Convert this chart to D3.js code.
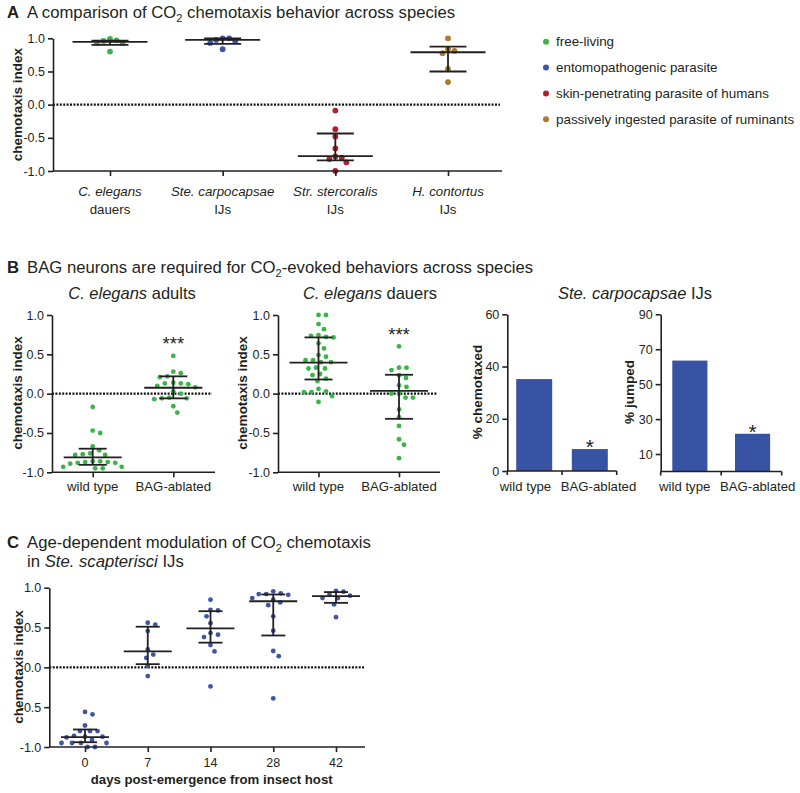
<!DOCTYPE html>
<html><head><meta charset="utf-8">
<script src="https://cdn.jsdelivr.net/npm/d3@7"></script>
<style>
body{margin:0;background:#fff;}
svg text{font-family:"Liberation Sans",Arial,Helvetica,sans-serif;fill:#231f20;}
</style></head><body>
<script>
// ---------------- DATA ----------------
// Panel A
const categoriesA = ["C. elegans", "Ste. carpocapsae", "Str. stercoralis", "H. contortus"];
const stagesA = ["dauers", "IJs", "IJs", "IJs"];
const lifestylesA = ["free-living", "entomopathogenic parasite", "skin-penetrating parasite of humans", "passively ingested parasite of ruminants"];
const celegansDauersA = [0.97, 0.93, 0.93, 0.96, 0.99, 0.80];
const steCarpocapsaeA = [1.0, 0.96, 0.93, 0.975, 1.0, 0.835];
const strStercoralisA = [-0.09, -0.37, -0.48, -0.66, -0.78, -0.82, -0.87, -0.80, -1.0];
const hContortusA = [1.0, 0.835, 0.775, 0.81, 0.54, 0.34];
const medianA = [0.945, 0.975, -0.775, 0.79];
const q1A = [0.90, 0.915, -0.84, 0.50];
const q3A = [0.965, 1.0, -0.435, 0.875];
const yTicksCI = [-1.0, -0.5, 0.0, 0.5, 1.0];

// Panel B
const groupsB = ["wild type", "BAG-ablated"];
const adultsWT = [-0.17, -0.47, -0.50, -0.67, -0.72, -0.76, -0.77, -0.78, -0.78, -0.86, -0.87, -0.88, -0.89, -0.88, -0.87, -0.86, -0.93, -0.95, -0.95, -0.93];
const adultsBAG = [0.48, 0.28, 0.26, 0.22, 0.21, 0.14, 0.13, 0.13, 0.12, 0.10, 0.08, 0.03, 0.0, -0.05, -0.06, -0.06, -0.07, -0.16, -0.24];
const adultsMedian = [-0.81, 0.075];
const adultsQ1 = [-0.905, -0.06];
const adultsQ3 = [-0.70, 0.22];
const adultsSig = ["", "***"];
const dauersWT = [1.0, 1.0, 0.885, 0.82, 0.745, 0.72, 0.715, 0.735, 0.64, 0.575, 0.47, 0.49, 0.425, 0.40, 0.40, 0.425, 0.32, 0.32, 0.33, 0.25, 0.235, 0.19, 0.16, 0.06, 0.02, 0.02, 0.03, -0.03, -0.105];
const dauersBAG = [0.6, 0.33, 0.33, 0.30, 0.235, 0.20, 0.105, 0.085, 0.0, 0.0, -0.05, -0.05, -0.20, -0.30, -0.41, -0.58, -0.65, -0.82];
const dauersMedian = [0.395, 0.035];
const dauersQ1 = [0.18, -0.32];
const dauersQ3 = [0.715, 0.24];
const dauersSig = ["", "***"];
const chemotaxedPct = [35.2, 8.4];
const chemotaxedTicks = [0, 20, 40, 60];
const chemotaxedSig = ["", "*"];
const jumpedPct = [63.5, 21.6];
const jumpedTicks = [10, 30, 50, 70, 90];
const jumpedSig = ["", "*"];

// Panel C
const daysC = ["0", "7", "14", "28", "42"];
const day0 = [-0.56, -0.59, -0.73, -0.80, -0.80, -0.80, -0.91, -0.87, -0.88, -0.87, -0.86, -0.95, -0.95, -0.95, -0.95, -1.0, -1.0];
const day7 = [0.56, 0.535, 0.455, 0.225, 0.16, 0.12, 0.02, -0.11];
const day14 = [0.85, 0.72, 0.715, 0.64, 0.555, 0.43, 0.41, 0.38, 0.28, 0.20, -0.24];
const day28 = [0.955, 0.92, 0.91, 0.92, 0.93, 0.85, 0.87, 0.815, 0.78, 0.64, 0.46, 0.205, 0.14, -0.39];
const day42 = [0.95, 0.96, 0.91, 0.90, 0.87, 0.87, 0.79, 0.63];
const medianC = [-0.877, 0.20, 0.49, 0.83, 0.895];
const q1C = [-0.94, 0.04, 0.31, 0.40, 0.81];
const q3C = [-0.78, 0.51, 0.705, 0.915, 0.945];

// ---------------- STYLE ----------------
const INK = "#231f20";
const paletteA = ["#3bb44a", "#3d55a6", "#b3202a", "#a97a2f"];
const greenB = "#3bb44a";
const blueC = "#3d55a6";
const barBlue = "#3953a4";

// ---------------- HELPERS ----------------
const svg = d3.select("body").append("svg").attr("width", 800).attr("height", 793);

function swarm(vals, y, r, gap) {
  const D = 2 * r + gap;
  const placed = [];
  const order = vals.map((v, i) => ({v, i, y: y(v)})).sort((a, b) => b.v - a.v);
  for (const p of order) {
    let off = 0;
    for (let k = 0; k < 400; k++) {
      const o = (k % 2 === 1 ? 1 : -1) * Math.ceil(k / 2) * 0.5;
      if (placed.every(q => (q.dx - o) ** 2 + (q.y - p.y) ** 2 >= D * D)) { off = o; break; }
    }
    p.dx = off; placed.push(p);
  }
  return placed;
}

function yAxis(y, xPos, ticks, fmt) {
  const a = svg.append("g").attr("transform", `translate(${xPos},0)`)
    .call(d3.axisLeft(y).tickValues(ticks).tickSize(5).tickSizeOuter(0).tickPadding(3).tickFormat(fmt));
  a.attr("font-family", null).attr("font-size", null);
  a.select(".domain").attr("stroke", INK).attr("stroke-width", 1.6);
  a.selectAll(".tick line").attr("stroke", INK).attr("stroke-width", 1.6);
  a.selectAll(".tick text").attr("font-size", 12.5).attr("fill", INK);
  return a;
}

function xAxisPoints(x, yPos, x0, x1) {
  const a = svg.append("g").attr("transform", `translate(0,${yPos})`)
    .call(d3.axisBottom(x).tickSize(5).tickSizeOuter(0).tickFormat(""));
  a.select(".domain").remove();
  a.selectAll(".tick line").attr("stroke", INK).attr("stroke-width", 1.6);
  a.append("line").attr("x1", x0).attr("x2", x1).attr("y1", 0).attr("y2", 0)
    .attr("stroke", INK).attr("stroke-width", 1.6);
  return a;
}

function zeroLine(y, x0, x1) {
  svg.append("line").attr("x1", x0).attr("x2", x1).attr("y1", y(0)).attr("y2", y(0))
    .attr("stroke", "#111").attr("stroke-width", 2.4).attr("stroke-dasharray", "2,1.4");
}

function scatterGroup(x, y, cat, vals, color, r, gap, med, q1, q3, medW, whW) {
  const g = svg.append("g");
  const cx = x(cat);
  const pts = swarm(vals, y, r, gap);
  g.selectAll("circle").data(pts).join("circle")
    .attr("cx", d => cx + d.dx).attr("cy", d => d.y).attr("r", r).attr("fill", color);
  const segs = [
    [cx - medW / 2, y(med), cx + medW / 2, y(med)],
    [cx - whW / 2, y(q1), cx + whW / 2, y(q1)],
    [cx - whW / 2, y(q3), cx + whW / 2, y(q3)],
    [cx, y(q1), cx, y(q3)]
  ];
  g.selectAll("line").data(segs).join("line")
    .attr("x1", d => d[0]).attr("y1", d => d[1]).attr("x2", d => d[2]).attr("y2", d => d[3])
    .attr("stroke", INK).attr("stroke-width", 1.8);
}

function yLabel(txt, x, y) {
  svg.append("text").attr("transform", `translate(${x},${y}) rotate(-90)`)
    .attr("text-anchor", "middle").attr("font-weight", "bold").attr("font-size", 13.5).text(txt);
}

function panelTitle(letter, x, y, before, after) {
  const t = svg.append("text").attr("x", 7).attr("y", y).attr("font-size", 16.7);
  t.append("tspan").attr("font-weight", "bold").text(letter);
  t.append("tspan").attr("x", x).text(before);
  t.append("tspan").attr("font-size", 11).attr("dy", 4).text("2");
  t.append("tspan").attr("dy", -4).text(after);
  return t;
}

const fmt1 = d => d.toFixed(1);

// ---------------- PANEL A ----------------
panelTitle("A", 27, 18, "A comparison of CO", " chemotaxis behavior across species");
const yA = d3.scaleLinear().domain([-1, 1]).range([171, 38.3]);
const xA = d3.scalePoint().domain(categoriesA).range([110, 448]);
zeroLine(yA, 53, 500);
const valsA = [celegansDauersA, steCarpocapsaeA, strStercoralisA, hContortusA];
categoriesA.forEach((c, i) => scatterGroup(xA, yA, c, valsA[i], paletteA[i], 2.9, 0.6, medianA[i], q1A[i], q3A[i], 75, 37));
yAxis(yA, 53, yTicksCI, fmt1);
xAxisPoints(xA, 171, 53, 502);
categoriesA.forEach((c, i) => {
  svg.append("text").attr("x", xA(c)).attr("y", 196).attr("text-anchor", "middle")
    .attr("font-size", 13.3).attr("font-style", "italic").text(c);
  svg.append("text").attr("x", xA(c)).attr("y", 213.5).attr("text-anchor", "middle")
    .attr("font-size", 13.3).text(stagesA[i]);
});
yLabel("chemotaxis index", 22, 104.6);
// legend
const legY = d3.scalePoint().domain(lifestylesA).range([41.7, 119.3]);
lifestylesA.forEach((l, i) => {
  svg.append("circle").attr("cx", 546).attr("cy", legY(l)).attr("r", 3).attr("fill", paletteA[i]);
  svg.append("text").attr("x", 556).attr("y", legY(l) + 4.3).attr("font-size", 13.4).text(l);
});

// ---------------- PANEL B ----------------
panelTitle("B", 27, 273, "BAG neurons are required for CO", "-evoked behaviors across species");

function subTitle(cx, italicPart, rest) {
  const t = svg.append("text").attr("x", cx).attr("y", 299).attr("text-anchor", "middle").attr("font-size", 16.5);
  t.append("tspan").attr("font-style", "italic").text(italicPart);
  t.append("tspan").text(rest);
}

function scatterPanelB(axisX, axisEnd, ptRange, wt, bag, med, q1, q3, sig, labelX) {
  const y = d3.scaleLinear().domain([-1, 1]).range([472.3, 315]);
  const x = d3.scalePoint().domain(groupsB).range(ptRange);
  zeroLine(y, axisX, axisEnd - 3);
  [wt, bag].forEach((vals, i) => scatterGroup(x, y, groupsB[i], vals, greenB, 2.4, 2.6, med[i], q1[i], q3[i], 58, 28));
  yAxis(y, axisX, yTicksCI, fmt1);
  xAxisPoints(x, 472.3, axisX, axisEnd);
  groupsB.forEach(gname => svg.append("text").attr("x", x(gname)).attr("y", 490.5)
    .attr("text-anchor", "middle").attr("font-size", 13.2).text(gname));
  [wt, bag].forEach((vals, i) => {
    if (sig[i]) svg.append("text").attr("x", x(groupsB[i])).attr("y", y(d3.max(vals) + 0.21) + 10.7)
      .attr("text-anchor", "middle").attr("font-size", 18.6).text(sig[i]);
  });
  yLabel("chemotaxis index", labelX, 393);
}

subTitle(132, "C. elegans", " adults");
scatterPanelB(52, 215, [92.7, 173.3], adultsWT, adultsBAG, adultsMedian, adultsQ1, adultsQ3, adultsSig, 22);
subTitle(370, "C. elegans", " dauers");
scatterPanelB(278, 440, [318.5, 399], dauersWT, dauersBAG, dauersMedian, dauersQ1, dauersQ3, dauersSig, 246.5);

subTitle(635, "Ste. carpocapsae", " IJs");

function barChart(vals, ticks, yMax, yBottom, x0, x1, padIn, padOut, sig, label, labelX) {
  const y = d3.scaleLinear().domain([0, yMax]).range([yBottom, 314.3]);
  const x = d3.scaleBand().domain(groupsB).range([x0, x1]).paddingInner(padIn).paddingOuter(padOut);
  svg.append("g").selectAll("rect").data(vals).join("rect")
    .attr("x", (d, i) => x(groupsB[i])).attr("width", x.bandwidth())
    .attr("y", d => y(d)).attr("height", d => y(0) - y(d)).attr("fill", barBlue);
  yAxis(y, x0, ticks, d => d);
  const mid = (x(groupsB[0]) + x.bandwidth() + x(groupsB[1])) / 2;
  svg.append("line").attr("x1", x0).attr("x2", x1).attr("y1", y(0)).attr("y2", y(0)).attr("stroke", INK).attr("stroke-width", 1.6);
  [x0, mid, x1].forEach(t => svg.append("line").attr("x1", t).attr("x2", t).attr("y1", y(0)).attr("y2", y(0) + 4)
    .attr("stroke", INK).attr("stroke-width", 1.6));
  const c0 = x(groupsB[0]) + x.bandwidth() / 2, c1 = x(groupsB[1]) + x.bandwidth() / 2;
  const cm = (c0 + c1) / 2;
  groupsB.forEach((gname, i) => svg.append("text").attr("x", cm + (i === 0 ? -36.5 : 36.5)).attr("y", 490.5)
    .attr("text-anchor", "middle").attr("font-size", 13.2).text(gname));
  vals.forEach((v, i) => {
    if (sig[i]) svg.append("text").attr("x", x(groupsB[i]) + x.bandwidth() / 2).attr("y", y(v) + 5)
      .attr("text-anchor", "middle").attr("font-size", 21).text(sig[i]);
  });
  yLabel(label, labelX, 392);
}
barChart(chemotaxedPct, chemotaxedTicks, 60, 471, 507.3, 616.7, 0.353, 0.16, chemotaxedSig, "% chemotaxed", 482);
barChart(jumpedPct, jumpedTicks, 90, 471.5, 660.7, 781.7, 0.44, 0.185, jumpedSig, "% jumped", 634);

// ---------------- PANEL C ----------------
panelTitle("C", 27, 548, "Age-dependent modulation of CO", " chemotaxis");
const t2 = svg.append("text").attr("x", 27).attr("y", 567).attr("font-size", 16.7);
t2.append("tspan").text("in ");
t2.append("tspan").attr("font-style", "italic").text("Ste. scapterisci");
t2.append("tspan").text(" IJs");

const yC = d3.scaleLinear().domain([-1, 1]).range([747, 587.7]);
const xC = d3.scalePoint().domain(daysC).range([85, 336]);
zeroLine(yC, 49.3, 364);
const valsC = [day0, day7, day14, day28, day42];
daysC.forEach((d, i) => scatterGroup(xC, yC, d, valsC[i], blueC, 2.4, 2.6, medianC[i], q1C[i], q3C[i], 48, 24));
yAxis(yC, 49.3, yTicksCI, fmt1);
xAxisPoints(xC, 747, 49.3, 365);
daysC.forEach(d => svg.append("text").attr("x", xC(d)).attr("y", 767).attr("text-anchor", "middle")
  .attr("font-size", 12.5).text(d));
svg.append("text").attr("x", 211.7).attr("y", 784).attr("text-anchor", "middle")
  .attr("font-weight", "bold").attr("font-size", 13.2).text("days post-emergence from insect host");
yLabel("chemotaxis index", 23, 667);
</script>
</body></html>
